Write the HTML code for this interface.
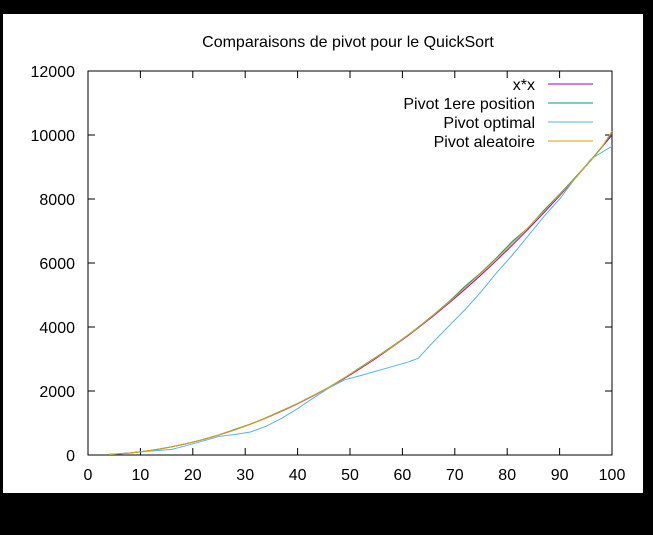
<!DOCTYPE html>
<html><head><meta charset="utf-8"><style>
body{margin:0;background:#000;width:653px;height:535px;overflow:hidden}
svg{display:block}
text{font-family:"Liberation Sans",sans-serif;}
</style></head><body>
<svg width="653" height="535">
<rect x="3" y="14" width="640" height="479" fill="#fff"/>
<text x="348" y="47" font-size="16" text-anchor="middle">Comparaisons de pivot pour le QuickSort</text>
<g id="axes"></g>
<g id="series"></g>
<g id="legend"></g>
</svg>
<script>
const xs=[4,6,8,10,12,14,16,18,20,22,25,28,31,34,37,40,43,46,49,52,55,58,61,63,66,69,72,75,78,81,84,87,90,93,96,98,100];
const xsq=[16,36,64,100,144,196,256,324,400,484,625,784,961,1156,1369,1600,1849,2116,2401,2704,3025,3364,3721,3969,4356,4761,5184,5625,6084,6561,7056,7569,8100,8649,9216,9604,10000];
const pivotFirst=[18,40,66,102,146,198,258,330,402,490,630,800,965,1170,1390,1610,1860,2120,2420,2740,3060,3390,3740,3990,4390,4810,5280,5700,6170,6680,7100,7650,8150,8680,9220,9620,10050];
const pivotOptimal=[16,36,60,95,125,150,175,260,350,440,580,640,720,900,1150,1450,1780,2100,2350,2480,2620,2760,2900,3020,3550,4050,4550,5100,5700,6250,6850,7450,8000,8650,9250,9450,9650];
const pivotRandom=[18,38,64,100,146,196,256,330,400,488,628,790,960,1160,1380,1610,1860,2120,2420,2730,3050,3370,3740,3980,4380,4790,5240,5680,6140,6620,7110,7620,8130,8660,9200,9600,10120];
const yTicks=[0,2000,4000,6000,8000,10000,12000];
const xTicks=[0,10,20,30,40,50,60,70,80,90,100];
const L=88,R=612,T=71,B=455;
const sx=v=>L+(v-0)/100*(R-L), sy=v=>B-v/12000*(B-T);
const NS="http://www.w3.org/2000/svg";
function mk(tag,attrs,parent){const e=document.createElementNS(NS,tag);for(const k in attrs)e.setAttribute(k,attrs[k]);parent.appendChild(e);return e;}
const ax=document.getElementById('axes');
yTicks.forEach(t=>{
 const y=sy(t);
 const a=mk('line',{x1:L,x2:L+7,y1:y,y2:y,stroke:'#000'},ax);
 
 
 mk('line',{x1:R,x2:R-7,y1:y,y2:y,stroke:'#000'},ax);
 const tx=mk('text',{x:L-13,y:y+6,'font-size':'16','text-anchor':'end'},ax);tx.textContent=t;
 
 
});
xTicks.forEach(t=>{
 const x=sx(t);
 const a=mk('line',{x1:x,x2:x,y1:B,y2:B-7,stroke:'#000'},ax);
 
 
 mk('line',{x1:x,x2:x,y1:T,y2:T+7,stroke:'#000'},ax);
 const tx=mk('text',{x:x,y:B+25,'font-size':'16','text-anchor':'middle'},ax);tx.textContent=t;
 
 
});
const fr=mk('rect',{x:L,y:T,width:R-L,height:B-T,fill:'none',stroke:'#000'},ax);


const series=[["x*x",xsq,"#9400d3","series-xx"],["Pivot 1ere position",pivotFirst,"#009e73","series-pivot-first"],["Pivot optimal",pivotOptimal,"#56b4e9","series-pivot-optimal"],["Pivot aleatoire",pivotRandom,"#e69f00","series-pivot-random"]];
const sg=document.getElementById('series'),lg=document.getElementById('legend');
series.forEach((s,i)=>{
 const p=mk('polyline',{points:xs.map((x,j)=>sx(x)+','+sy(s[1][j])).join(' '),fill:'none',stroke:s[2],'stroke-width':'1'},sg);
 
 
 const y=84+i*19;
 const t=mk('text',{x:535,y:y+6,'font-size':'16','text-anchor':'end'},lg);t.textContent=s[0];
 
 
 const l=mk('line',{x1:548,x2:593,y1:y,y2:y,stroke:s[2]},lg);
 
 
});
</script>
</body></html>
